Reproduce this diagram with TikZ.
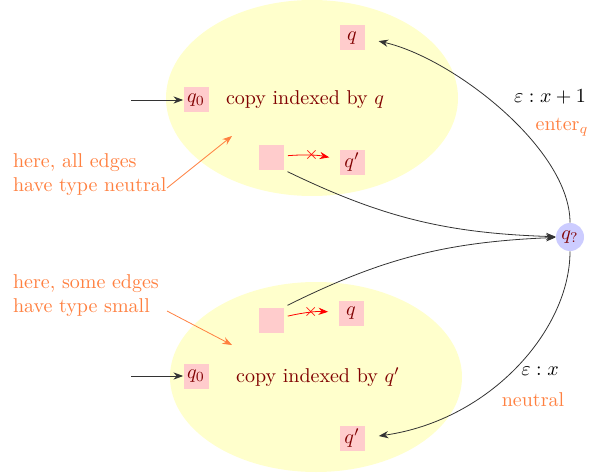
\documentclass[tikz,border=0pt]{standalone}
\usetikzlibrary{arrows.meta,positioning,calc,shapes.geometric}

\definecolor{copyyellow}{RGB}{255,255,204}
\definecolor{statepink}{RGB}{255,204,204}
\definecolor{notecol}{RGB}{255,128,64}
\definecolor{copytext}{RGB}{128,0,0}
\definecolor{hubblue}{RGB}{204,204,255}

\begin{document}
\begin{tikzpicture}[x=0.5pt, y=-0.5pt,
  copy/.style={ellipse, fill=copyyellow, draw=none, minimum width=146pt},
  st/.style={fill=statepink, minimum size=12.5pt, inner sep=1pt, text=copytext},
  lbl/.style={text=copytext},
  hub/.style={circle, fill=hubblue, minimum size=14pt, inner sep=0pt, text=copytext},
  arr/.style={-Stealth, black!80},
  bad/.style={-Stealth, red},
  note/.style={text=notecol, align=left},
  notearr/.style={-Stealth, notecol}
]
\useasboundingbox (0,0) rectangle (594,476);

% the two copies
\node[copy, minimum height=98pt] (up) at (312,98) {};
\node[copy, minimum height=95pt] (lo) at (316,377) {};

% upper copy
\node[st] (qa) at (352,38) {$q$};
\node[st] (q0a) at (196,100) {$q_0$};
\node[lbl] (ca) at (305,100) {copy indexed by $q$};
\node[st] (ba) at (271,157) {};
\node[st] (qpa) at (352,162) {$q'$};

% lower copy
\node[st] (bb) at (271,320) {};
\node[st] (qb) at (351,313) {$q$};
\node[st] (q0b) at (196,376) {$q_0$};
\node[lbl] (cb) at (318,377) {copy indexed by $q'$};
\node[st] (qpb) at (352,438) {$q'$};

% hub state
\node[hub] (hub) at (570,237) {$q_{?}$};

\coordinate (ina) at (131,100);
\coordinate (inb) at (131,376);
\draw[arr] (ina) -- (q0a);
\draw[arr] (inb) -- (q0b);

\draw[bad, shorten <=2pt, shorten >=5pt] (ba) to[bend left=8] node[font=\small] {$\times$} (qpa);
\draw[bad, shorten <=2pt, shorten >=5pt] (bb) to[bend left=8] node[font=\small] {$\times$} (qb);

\draw[arr, shorten <=2pt] (ba.south east) to[bend right=12] (hub);
\draw[arr, shorten <=2pt] (bb.north east) to[bend left=12] (hub);

\draw[arr, shorten >=7pt] (hub.north) .. controls ($(hub.north)+(0,-74)$) and ($(qa.east)+(88,20)$) .. (qa.east);
\draw[arr, shorten >=7pt] (hub.south) .. controls ($(hub.south)+(0,78)$) and ($(qpb.east)+(126,-18)$) .. (qpb.east);

\node (la) at (550,97) {$\varepsilon : x+1$};
\node[text=notecol] (ta) at (562,127) {enter$_q$};
\node (lb) at (540,371) {$\varepsilon : x$};
\node[text=notecol] (tb) at (533,400) {neutral};

% notes
\node[note, anchor=west] (na) at (6,175) {here, all edges\\have type neutral};
\node[note, anchor=west] (nb) at (6,296) {here, some edges\\have type small};
\coordinate (pa) at (232,136);
\coordinate (pb) at (232,345);
\draw[notearr] (167,188) -- (pa);
\draw[notearr] (167,311) -- (pb);

\end{tikzpicture}
\end{document}
